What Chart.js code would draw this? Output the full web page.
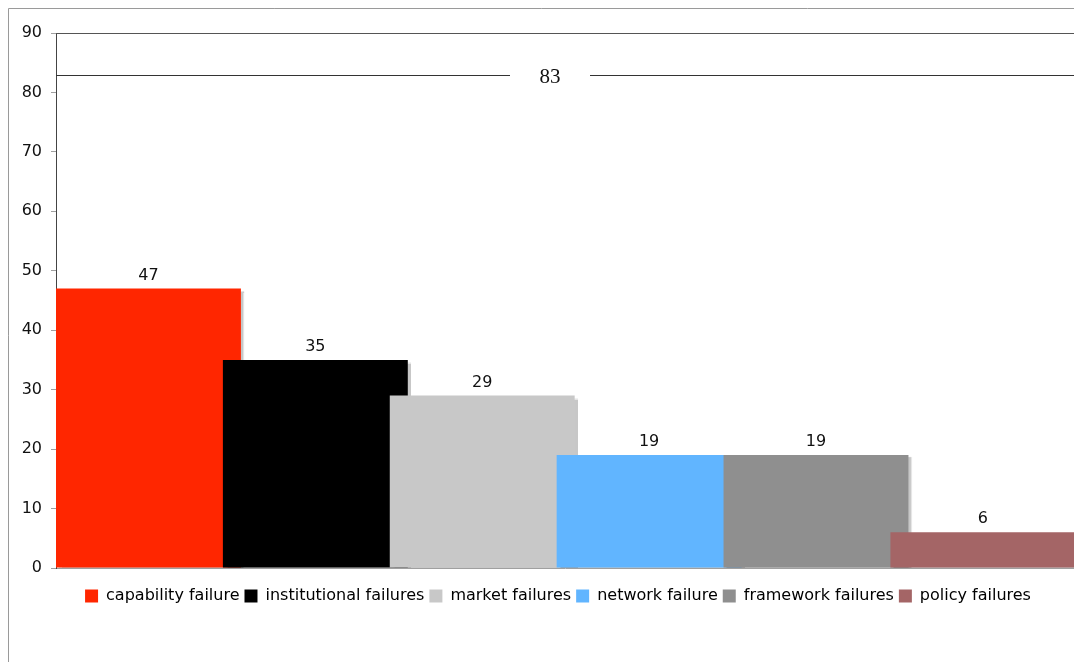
<!DOCTYPE html>
<html>
<head>
<meta charset="utf-8">
<script src="https://cdn.jsdelivr.net/npm/chart.js@4.4.1/dist/chart.umd.min.js"></script>
<style>
  html, body { margin: 0; padding: 0; background: #fff; }
  #wrap { position: absolute; left: 0; top: 0; width: 1074px; height: 662px; }
</style>
</head>
<body>
<div id="wrap"><canvas id="c" width="1074" height="662"></canvas></div>
<script>
// ---- data ----
const categories = ['capability failure', 'institutional failures', 'market failures', 'network failure', 'framework failures', 'policy failures'];
const values = [47, 35, 29, 19, 19, 6];
const colors = ['#ff2600', '#000000', '#c8c8c8', '#61b5ff', '#8f8f8f', '#a46566'];
const referenceValue = 83;
const referenceLabel = '83';
const yMin = 0, yMax = 90, yStep = 10;

// bars start at the left edge of each slot and overlap the next one
const barWidthUnits = 1.108;
const points = values.map((v, i) => ({ x: i + barWidthUnits / 2, y: v }));

const FONT = 'DejaVu Sans, Verdana, sans-serif';

const framePlugin = {
  id: 'frame',
  afterLayout(chart) {
    // the reference legend sits a little left of the plot centre
    if (chart.legend) { chart.legend.left -= 7; chart.legend.right -= 7; }
  },
  beforeDraw(chart) {
    const ctx = chart.ctx;
    ctx.save();
    ctx.strokeStyle = '#9a9a9a';
    ctx.lineWidth = 1;
    ctx.beginPath();
    ctx.moveTo(8.5, chart.height);
    ctx.lineTo(8.5, 8.5);
    ctx.lineTo(chart.width, 8.5);
    ctx.stroke();
    ctx.restore();
  },
  beforeDatasetsDraw(chart) {
    const ctx = chart.ctx;
    const a = chart.chartArea;
    ctx.save();
    ctx.beginPath();
    ctx.rect(a.left, a.top - 2, a.right - a.left, a.bottom - a.top + 2);
    ctx.clip();
    ctx.shadowColor = 'rgba(0,0,0,0.22)';
    ctx.shadowOffsetX = 3;
    ctx.shadowOffsetY = 2;
    ctx.shadowBlur = 1;
  },
  afterDatasetsDraw(chart) {
    const ctx = chart.ctx;
    ctx.restore();
    const area = chart.chartArea;
    const y = chart.scales.y;
    // top border of plot
    ctx.save();
    ctx.strokeStyle = '#555';
    ctx.lineWidth = 1;
    ctx.beginPath();
    ctx.moveTo(area.left, Math.round(area.top) + 0.5);
    ctx.lineTo(area.right, Math.round(area.top) + 0.5);
    ctx.stroke();
    // reference line
    const ry = Math.round(y.getPixelForValue(referenceValue)) + 0.5;
    const cx = 550;
    ctx.strokeStyle = '#333';
    ctx.beginPath();
    ctx.moveTo(area.left, ry);
    ctx.lineTo(cx - 40, ry);
    ctx.moveTo(cx + 40, ry);
    ctx.lineTo(area.right, ry);
    ctx.stroke();
    ctx.fillStyle = '#111';
    ctx.font = '21px "Liberation Serif", "DejaVu Serif", serif';
    ctx.textAlign = 'center';
    ctx.textBaseline = 'middle';
    ctx.fillText(referenceLabel, cx, ry + 2);
    // value labels
    ctx.font = '16px ' + FONT;
    ctx.fillStyle = '#111';
    ctx.textBaseline = 'bottom';
    const meta = chart.getDatasetMeta(0);
    meta.data.forEach((bar, i) => {
      ctx.fillText(String(values[i]), bar.x, bar.y - 5);
    });
    ctx.restore();
  }
};

new Chart(document.getElementById('c'), {
  type: 'bar',
  data: {
    datasets: [{
      data: points,
      backgroundColor: colors,
      borderWidth: 0,
      barPercentage: barWidthUnits,
      categoryPercentage: 1
    }]
  },
  options: {
    responsive: false,
    animation: false,
    devicePixelRatio: 1,
    layout: { padding: { top: 33, left: 0, right: 0, bottom: 48 } },
    scales: {
      x: {
        type: 'linear',
        min: 0,
        max: 6.1,
        offset: false,
        ticks: { display: false },
        grid: { display: false },
        border: { display: true, color: '#a0a0a0' },
        afterFit(s) { s.height = 15; }
      },
      y: {
        min: yMin,
        max: yMax,
        ticks: { stepSize: yStep, color: '#111', font: { family: FONT, size: 16 }, padding: 9 },
        grid: { drawOnChartArea: false, tickLength: 5, color: '#a0a0a0' },
        border: { display: true, color: '#444' },
        afterFit(s) { s.width = 56; }
      }
    },
    plugins: {
      tooltip: { enabled: false },
      legend: {
        position: 'bottom',
        fullSize: false,
        labels: {
          boxWidth: 13,
          boxHeight: 13,
          padding: 5,
          color: '#111',
          font: { family: FONT, size: 16 },
          generateLabels() {
            return categories.map((c, i) => ({
              text: c, fillStyle: colors[i], strokeStyle: colors[i], lineWidth: 0, hidden: false, index: i
            }));
          }
        }
      }
    }
  },
  plugins: [framePlugin]
});
</script>
</body>
</html>
